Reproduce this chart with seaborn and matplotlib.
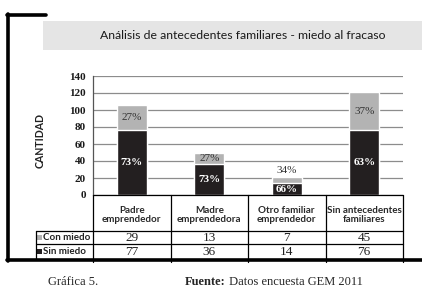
import pandas as pd
import seaborn as sns
import matplotlib.pyplot as plt
from matplotlib.patches import Rectangle
from matplotlib.lines import Line2D

# Data
categories = [
    "Padre\nemprendedor",
    "Madre\nemprendedora",
    "Otro familiar\nemprendedor",
    "Sin antecedentes\nfamiliares",
]
con_miedo = [29, 13, 7, 45]
sin_miedo = [77, 36, 14, 76]
pct_con = ["27%", "27%", "34%", "37%"]
pct_sin = ["73%", "73%", "66%", "63%"]
series_labels = ["Con miedo", "Sin miedo"]
y_ticks = [0, 20, 40, 60, 80, 100, 120, 140]

title = "Análisis de antecedentes familiares - miedo al fracaso"
y_label = "CANTIDAD"
caption = "Gráfica 5."
source_bold = "Fuente:"
source_text = " Datos encuesta GEM 2011"

GRAY = "#b3b3b3"
BLACK = "#231f20"
SANS = ["Lato", "DejaVu Sans"]
SERIF = ["Liberation Serif", "DejaVu Serif"]

sns.set_style("white")
plt.rcParams["font.family"] = SANS

W, H = 422, 294
fig = plt.figure(figsize=(W / 100, H / 100), dpi=100)


def px_axes(x0, y0, x1, y1):
    return fig.add_axes([x0 / W, 1 - y1 / H, (x1 - x0) / W, (y1 - y0) / H])


# Background frame, title band, footer
bg = fig.add_axes([0, 0, 1, 1], zorder=0)
bg.set_xlim(0, W)
bg.set_ylim(H, 0)
bg.axis("off")
bg.add_patch(Rectangle((43, 21), W - 43, 29, color="#e5e5e5", lw=0))
bg.text(243, 35.5, title, ha="center", va="center", fontsize=8.8, color="#1a1a1a")
bg.add_line(Line2D([8, 8], [14, 261], color="black", lw=2.6))
bg.add_line(Line2D([7, 46], [15, 15], color="black", lw=2.6))
bg.add_line(Line2D([7, W], [260, 260], color="black", lw=2.6))
bg.text(40, 140, y_label, rotation=90, ha="center", va="center",
        fontsize=7.6, fontweight="bold", color="#222222")
bg.text(48, 282, caption, ha="left", va="center", fontsize=9, family=SERIF)
src = bg.text(185, 282, source_bold, ha="left", va="center", fontsize=9,
              family=SERIF, fontweight="bold")
bg.annotate(source_text, xy=(1, 0), xycoords=src, ha="left", va="bottom",
            fontsize=9, family=SERIF)

# Stacked bars
df = pd.DataFrame({"cat": categories, "con": con_miedo, "sin": sin_miedo})
df["total"] = df["con"] + df["sin"]

ax = px_axes(93, 76, 403, 195)
ax.set_zorder(2)
ax.patch.set_alpha(0)
sns.barplot(df, x="cat", y="total", color=GRAY, width=0.39, saturation=1, ax=ax)
sns.barplot(df, x="cat", y="sin", color=BLACK, width=0.39, saturation=1, ax=ax)
ax.set_xlim(-0.5, 3.5)
ax.set_ylim(0, 140)
ax.set_yticks(y_ticks)
ax.set_xticks([])
ax.set_xlabel("")
ax.set_ylabel("")
ax.yaxis.grid(True, color="#8c8c8c", lw=0.9)
ax.set_axisbelow(True)
for s in ["top", "right", "bottom"]:
    ax.spines[s].set_visible(False)
ax.spines["left"].set_color("#555555")
ax.spines["left"].set_linewidth(0.9)
ax.tick_params(axis="y", length=0, pad=5)
for lab in ax.get_yticklabels():
    lab.set_family(SERIF)
    lab.set_fontweight("bold")
    lab.set_fontsize(8)
    lab.set_color("#1a1a1a")

for i in range(len(categories)):
    c, s = con_miedo[i], sin_miedo[i]
    if c < 10:
        ax.text(i, s + c + 2, pct_con[i], ha="center", va="bottom", fontsize=8,
                family=SERIF, color="#333333")
    else:
        ax.text(i, s + c / 2, pct_con[i], ha="center", va="center", fontsize=8,
                family=SERIF, color="#333333")
    ax.text(i, s / 2, pct_sin[i], ha="center", va="center", fontsize=8,
            family=SERIF, fontweight="bold", color="white")

# Data table under the bars
tab = px_axes(93, 195, 403, 259)
tab.set_zorder(3)
tab.patch.set_alpha(0)
tab.set_xlim(-0.5, 3.5)
tab.set_ylim(64, 0)
tab.axis("off")
left = -1.235
lw = 0.9
tab.add_line(Line2D([-0.5, 3.5], [0, 0], color="black", lw=lw, clip_on=False))
for yy in [36, 49]:
    tab.add_line(Line2D([left, 3.5], [yy, yy], color="black", lw=lw, clip_on=False))
for xx in [-0.5, 0.5, 1.5, 2.5, 3.5]:
    tab.add_line(Line2D([xx, xx], [0, 67], color="black", lw=lw, clip_on=False))
tab.add_line(Line2D([left, left], [36, 64], color="black", lw=lw, clip_on=False))

for i, cat in enumerate(categories):
    tab.text(i, 20, cat, ha="center", va="center", fontsize=7.1,
             fontweight="bold", color="#2a2a2a", linespacing=1.05)
    tab.text(i, 42.8, str(con_miedo[i]), ha="center", va="center",
             fontsize=9.5, family=SERIF, color="#222222")
    tab.text(i, 57, str(sin_miedo[i]), ha="center", va="center",
             fontsize=9.5, family=SERIF, color="#222222")

for row_y, lab, col in [(42.8, series_labels[0], GRAY), (56.5, series_labels[1], BLACK)]:
    tab.add_patch(Rectangle((left + 0.015, row_y - 2.5), 0.065, 5, color=col,
                            lw=0, clip_on=False))
    tab.text(left + 0.09, row_y, lab, ha="left", va="center", fontsize=7,
             fontweight="bold", color="#222222")

fig.savefig("out.png", dpi=100)
